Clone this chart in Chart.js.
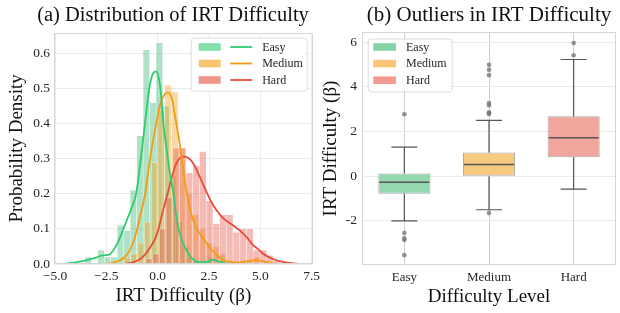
<!DOCTYPE html>
<html>
<head>
<meta charset="utf-8">
<script src="https://cdn.jsdelivr.net/npm/chart.js@4.4.0/dist/chart.umd.min.js"></script>
<style>
  html, body { margin: 0; padding: 0; background: #fff; }
  #wrap { position: relative; width: 620px; height: 313px; overflow: hidden; }
  canvas { position: absolute; top: 0; }
  #distChart { left: 0; }
  #boxChart { left: 310px; }
</style>
</head>
<body>
<div id="wrap">
  <canvas id="distChart" width="346" height="313"></canvas>
  <canvas id="boxChart" width="310" height="313"></canvas>
</div>
<script>
// ---- (a) histogram bins (edges) and densities ----
const easyEdges = [-3.55, -3.23, -2.92, -2.60, -2.29, -1.97, -1.65, -1.34, -1.02, -0.71, -0.39,
  -0.07, 0.24, 0.56, 0.87, 1.19, 1.51, 1.82, 2.14, 2.45, 2.77];
const easyDensity = [0.02, 0, 0.04, 0.02, 0.02, 0.11, 0.095, 0.21, 0.365, 0.61,
  0.46, 0.63, 0.45, 0.25, 0.12, 0.05, 0.02, 0.01, 0, 0.02];

const mediumEdges = [-1.65, -1.32, -0.99, -0.66, -0.32, 0.01, 0.34, 0.67, 1.0, 1.33, 1.67,
  2.0, 2.33, 2.66, 2.99, 3.32, 3.65, 3.99, 4.32, 4.65, 4.98];
const mediumDensity = [0.02, 0.03, 0.06, 0.12, 0.29, 0.44, 0.51, 0.49, 0.33, 0.2,
  0.14, 0.1, 0.06, 0.05, 0.03, 0.01, 0, 0, 0.01, 0.02];

const hardEdges = [-0.58, -0.25, 0.07, 0.40, 0.73, 1.06, 1.38, 1.71, 2.04, 2.36, 2.69,
  3.02, 3.34, 3.67, 4.0, 4.33, 4.65, 4.98, 5.31, 5.63, 5.96];
const hardDensity = [0.015, 0.03, 0.10, 0.19, 0.33, 0.33, 0.26, 0.28, 0.32, 0.18,
  0.115, 0.14, 0.14, 0.09, 0.10, 0.10, 0.04, 0.04, 0.025, 0.01];

// ---- (a) KDE curves ----
const easyKdeX = [-4.6, -4.2, -3.8, -3.4, -3.0, -2.75, -2.55, -2.35, -2.15, -1.95, -1.67, -1.4,
  -1.2, -1.05, -0.82, -0.62, -0.41, -0.25, -0.07, 0.05, 0.15, 0.28, 0.45, 0.62, 0.77, 0.9,
  1.02, 1.2, 1.35, 1.55, 1.8, 2.1, 2.4, 2.7, 3.0, 3.3, 3.6];
const easyKdeY = [0.0, 0.003, 0.007, 0.012, 0.018, 0.024, 0.025, 0.027, 0.04, 0.06, 0.1, 0.14,
  0.17, 0.2, 0.3, 0.4, 0.5, 0.54, 0.549, 0.53, 0.49, 0.4, 0.32, 0.25, 0.2, 0.14,
  0.1, 0.065, 0.045, 0.025, 0.01, 0.005, 0.006, 0.012, 0.007, 0.002, 0.0];

const mediumKdeX = [-2.5, -2.1, -1.7, -1.4, -1.2, -1.0, -0.8, -0.61, -0.37, -0.2, -0.07, 0.1,
  0.3, 0.5, 0.7, 0.85, 1.0, 1.1, 1.34, 1.6, 1.9, 2.2, 2.5, 2.8, 3.1, 3.5, 3.9, 4.3, 4.8,
  5.2, 5.6, 6.0];
const mediumKdeY = [0.0, 0.005, 0.015, 0.035, 0.06, 0.1, 0.15, 0.2, 0.3, 0.36, 0.4, 0.45,
  0.48, 0.489, 0.47, 0.42, 0.37, 0.33, 0.23, 0.15, 0.1, 0.075, 0.05, 0.03, 0.014, 0.006,
  0.004, 0.007, 0.011, 0.007, 0.002, 0.0];

const hardKdeX = [-1.6, -1.2, -0.85, -0.6, -0.37, -0.1, 0.04, 0.25, 0.48, 0.7, 0.9, 1.1, 1.3,
  1.5, 1.75, 2.0, 2.24, 2.5, 2.72, 3.0, 3.3, 3.7, 4.1, 4.4, 4.6, 4.9, 5.17, 5.5, 5.82,
  6.3, 7.0];
const hardKdeY = [0.0, 0.005, 0.014, 0.028, 0.047, 0.075, 0.1, 0.15, 0.2, 0.25, 0.285, 0.303,
  0.306, 0.302, 0.285, 0.255, 0.223, 0.19, 0.166, 0.143, 0.125, 0.109, 0.09, 0.072,
  0.057, 0.042, 0.028, 0.017, 0.01, 0.004, 0.0];

const distXTicks = [-5, -2.5, 0, 2.5, 5, 7.5];
const distYTicks = [0, 0.1, 0.2, 0.3, 0.4, 0.5, 0.6];

// ---- (b) box plot statistics ----
const levels = ["Easy", "Medium", "Hard"];
const boxQ1 = [-0.78, 0.0, 0.85];
const boxMedian = [-0.27, 0.53, 1.72];
const boxQ3 = [0.12, 1.06, 2.68];
const whiskerLow = [-2.0, -1.5, -0.58];
const whiskerHigh = [1.30, 2.50, 5.22];
const easyOutliers = [2.77, -2.54, -2.78, -2.85, -3.53];
const mediumOutliers = [-1.65, 2.78, 2.82, 2.86, 3.17, 3.27, 4.52, 4.76, 4.98];
const hardOutliers = [5.41, 5.96];
const boxYTicks = [-2, 0, 2, 4, 6];

// colours
const lineColors = ["#2ecc71", "#f39c12", "#e74c3c"];
const barColors = ["rgba(80,190,130,0.45)", "rgba(243,156,18,0.38)", "rgba(231,76,60,0.38)"];
const patchColors = ["rgba(46,204,113,0.6)", "rgba(243,156,18,0.6)", "rgba(231,76,60,0.6)"];
const boxColors = ["#93d8b0", "#f7ca82", "#f1a59c"];
const boxPatchColors = ["#84d3a4", "#f9c677", "#f29a90"];

Chart.defaults.font.family = "'Liberation Serif', 'Times New Roman', serif";
Chart.defaults.color = "#262626";

function binCenters(edges) {
  return edges.slice(0, -1).map((e, i) => (e + edges[i + 1]) / 2);
}
function histPoints(edges, dens) {
  const c = binCenters(edges);
  return dens.map((d, i) => ({ x: c[i], y: d }));
}
function curvePoints(xs, ys) {
  return xs.map((x, i) => ({ x: x, y: ys[i] }));
}

// light frame round the plot area
const framePlugin = {
  id: "frame",
  afterDatasetsDraw(chart, args, opts) {
    const a = chart.chartArea;
    const ctx = chart.ctx;
    ctx.save();
    ctx.strokeStyle = opts.color || "#d6d6d6";
    ctx.lineWidth = 1;
    ctx.strokeRect(Math.round(a.left) + 0.5, Math.round(a.top) + 0.5,
      Math.round(a.right - a.left) - 1, Math.round(a.bottom - a.top) - 1);
    ctx.restore();
  }
};

function roundRect(ctx, x, y, w, h, r) {
  ctx.beginPath();
  ctx.moveTo(x + r, y);
  ctx.lineTo(x + w - r, y);
  ctx.quadraticCurveTo(x + w, y, x + w, y + r);
  ctx.lineTo(x + w, y + h - r);
  ctx.quadraticCurveTo(x + w, y + h, x + w - r, y + h);
  ctx.lineTo(x + r, y + h);
  ctx.quadraticCurveTo(x, y + h, x, y + h - r);
  ctx.lineTo(x, y + r);
  ctx.quadraticCurveTo(x, y, x + r, y);
  ctx.closePath();
}

// legend with a patch (and optionally a line) per row
const pairLegendPlugin = {
  id: "pairLegend",
  afterDraw(chart, args, o) {
    const a = chart.chartArea;
    const ctx = chart.ctx;
    const x0 = o.corner === "right" ? a.right - o.inset - o.width : a.left + o.inset;
    const y0 = a.top + o.top;
    ctx.save();
    roundRect(ctx, x0 + 0.5, y0 + 0.5, o.width, o.height, 3);
    ctx.fillStyle = "rgba(255,255,255,0.85)";
    ctx.fill();
    ctx.strokeStyle = "#dcdcdc";
    ctx.lineWidth = 1;
    ctx.stroke();
    ctx.font = "12px 'Liberation Serif', serif";
    ctx.textBaseline = "middle";
    o.labels.forEach((label, i) => {
      const cy = y0 + o.firstRow + i * o.rowGap;
      ctx.fillStyle = o.patches[i];
      ctx.fillRect(x0 + o.patchX, cy - 3.8, o.patchW, 7.6);
      if (o.lines) {
        ctx.strokeStyle = o.lines[i];
        ctx.lineWidth = 1.8;
        ctx.beginPath();
        ctx.moveTo(x0 + o.lineX, cy);
        ctx.lineTo(x0 + o.lineX + o.patchW, cy);
        ctx.stroke();
      }
      ctx.fillStyle = "#262626";
      ctx.fillText(label, x0 + o.textX, cy + 0.5);
    });
    ctx.restore();
  }
};

// whiskers, caps and medians from the box statistics
const whiskerPlugin = {
  id: "whiskers",
  afterDatasetsDraw(chart) {
    const xs = chart.scales.x;
    const ys = chart.scales.y;
    const boxes = chart.getDatasetMeta(1).data;
    const ctx = chart.ctx;
    ctx.save();
    ctx.strokeStyle = "#555";
    levels.forEach((lvl, i) => {
      const cx = xs.getPixelForValue(i);
      const w = boxes[i].width;
      const cap = w * 0.5;
      ctx.lineWidth = 1.2;
      ctx.beginPath();
      ctx.moveTo(cx, ys.getPixelForValue(whiskerLow[i]));
      ctx.lineTo(cx, ys.getPixelForValue(boxQ1[i]));
      ctx.moveTo(cx, ys.getPixelForValue(boxQ3[i]));
      ctx.lineTo(cx, ys.getPixelForValue(whiskerHigh[i]));
      ctx.moveTo(cx - cap / 2, ys.getPixelForValue(whiskerLow[i]));
      ctx.lineTo(cx + cap / 2, ys.getPixelForValue(whiskerLow[i]));
      ctx.moveTo(cx - cap / 2, ys.getPixelForValue(whiskerHigh[i]));
      ctx.lineTo(cx + cap / 2, ys.getPixelForValue(whiskerHigh[i]));
      ctx.stroke();
      ctx.lineWidth = 1.5;
      ctx.beginPath();
      ctx.moveTo(cx - w / 2 + 1, ys.getPixelForValue(boxMedian[i]));
      ctx.lineTo(cx + w / 2 - 1, ys.getPixelForValue(boxMedian[i]));
      ctx.stroke();
    });
    ctx.restore();
  }
};

const xMin = -5.05, xMax = 7.55;
function setDistXTicks(s) {
  s.ticks = distXTicks.map(v => ({ value: v }));
}
// one hidden x axis per histogram so every group keeps its own bin width
function hiddenX() {
  return { type: "linear", display: false, min: xMin, max: xMax, offset: false,
    afterBuildTicks: setDistXTicks };
}
const tickFont = { size: 13.5 };
const axisTitleFont = { size: 19 };

function fmtDist(v) {
  const s = Math.abs(v).toFixed(1);
  return v < 0 ? "\u2212" + s : s;
}

function histDataset(label, edges, dens, color, axisId, order) {
  return {
    label: label, data: histPoints(edges, dens), backgroundColor: color,
    borderColor: "rgba(255,255,255,0.6)", borderWidth: 0.5, xAxisID: axisId,
    grouped: false, categoryPercentage: 1, barPercentage: 1, order: order
  };
}
function kdeDataset(label, xs, ys, color) {
  return {
    type: "line", label: label, data: curvePoints(xs, ys), borderColor: color,
    borderWidth: 1.8, pointRadius: 0, cubicInterpolationMode: "monotone", xAxisID: "x", order: 0
  };
}

// ---------------- (a) distribution ----------------
new Chart(document.getElementById("distChart"), {
  type: "bar",
  data: {
    datasets: [
      kdeDataset("Easy", easyKdeX, easyKdeY, lineColors[0]),
      kdeDataset("Medium", mediumKdeX, mediumKdeY, lineColors[1]),
      kdeDataset("Hard", hardKdeX, hardKdeY, lineColors[2]),
      histDataset("Easy", easyEdges, easyDensity, barColors[0], "xEasy", 3),
      histDataset("Medium", mediumEdges, mediumDensity, barColors[1], "xMedium", 2),
      histDataset("Hard", hardEdges, hardDensity, barColors[2], "xHard", 1)
    ]
  },
  options: {
    responsive: false,
    animation: false,
    layout: { padding: 0 },
    plugins: {
      legend: { display: false },
      tooltip: { enabled: false },
      title: {
        display: true,
        text: "(a) Distribution of IRT Difficulty",
        color: "#111",
        font: { size: 20.5, weight: "normal" },
        padding: { top: 3.3, bottom: 4.8 }
      },
      frame: { color: "#d6d6d6" },
      pairLegend: {
        corner: "right", inset: 6, top: 5, width: 116, height: 53,
        firstRow: 9.3, rowGap: 16.5, patchX: 8, patchW: 22, lineX: 39.5, textX: 71.5,
        labels: levels, patches: patchColors, lines: lineColors
      }
    },
    scales: {
      x: {
        type: "linear", min: xMin, max: xMax, offset: false,
        afterBuildTicks: setDistXTicks,
        afterFit: s => { s.height = 49; },
        grid: { color: "#ebebeb", drawTicks: false, offset: false },
        border: { display: false },
        ticks: { font: tickFont, padding: 4, maxRotation: 0, callback: v => fmtDist(v) },
        title: { display: true, text: "IRT Difficulty (\u03b2)", color: "#111", font: axisTitleFont,
          padding: { top: 0, bottom: 5.4 } }
      },
      xEasy: hiddenX(),
      xMedium: hiddenX(),
      xHard: hiddenX(),
      y: {
        min: 0, max: 0.659,
        afterBuildTicks: s => { s.ticks = distYTicks.map(v => ({ value: v })); },
        afterFit: s => { s.width = 54; },
        grid: { color: "#ebebeb", drawTicks: false },
        border: { display: false },
        ticks: { font: tickFont, padding: 4, callback: v => v.toFixed(1) },
        title: { display: true, text: "Probability Density", color: "#111", font: axisTitleFont,
          padding: { top: 6, bottom: 0 } }
      },
      // empty right margin strip, so the title centres over the whole panel
      yPad: {
        type: "linear", position: "right", display: true,
        afterFit: s => { s.width = 33.3; },
        grid: { display: false, drawTicks: false },
        border: { display: false },
        ticks: { display: false }
      }
    }
  },
  plugins: [framePlugin, pairLegendPlugin]
});

// ---------------- (b) box plot ----------------
const outlierPoints = []
  .concat(easyOutliers.map(v => ({ x: "Easy", y: v })))
  .concat(mediumOutliers.map(v => ({ x: "Medium", y: v })))
  .concat(hardOutliers.map(v => ({ x: "Hard", y: v })));

new Chart(document.getElementById("boxChart"), {
  type: "bar",
  data: {
    labels: levels,
    datasets: [
      { type: "scatter", label: "Outliers", data: outlierPoints, pointRadius: 2.3,
        pointBackgroundColor: "rgba(120,120,120,0.8)", pointBorderWidth: 0, order: 0 },
      { label: "Box", data: levels.map((l, i) => [boxQ1[i], boxQ3[i]]), backgroundColor: boxColors,
        borderColor: "rgba(140,140,140,0.75)", borderWidth: 1, borderSkipped: false,
        barPercentage: 0.615, categoryPercentage: 1, order: 1 }
    ]
  },
  options: {
    responsive: false,
    animation: false,
    layout: { padding: { left: 0, right: 1, top: 0, bottom: 0 } },
    plugins: {
      legend: { display: false },
      tooltip: { enabled: false },
      title: {
        display: true,
        fullSize: false,
        text: "(b) Outliers in IRT Difficulty",
        color: "#111",
        font: { size: 21, weight: "normal" },
        padding: { top: 3, bottom: 3.8 }
      },
      frame: { color: "#d6d6d6" },
      pairLegend: {
        corner: "left", inset: 5.7, top: 6.5, width: 84, height: 53,
        firstRow: 8.5, rowGap: 16.6, patchX: 5.6, patchW: 22.7, textX: 38.3,
        labels: levels, patches: boxPatchColors
      }
    },
    scales: {
      x: {
        type: "category", offset: true,
        afterFit: s => { s.height = 48; },
        grid: { color: "#cfcfcf", drawTicks: false, offset: false },
        border: { display: false },
        ticks: { font: { size: 13 }, padding: 5 },
        title: { display: true, text: "Difficulty Level", color: "#111", font: axisTitleFont,
          padding: { top: 0, bottom: 5 } }
      },
      y: {
        min: -3.97, max: 6.45,
        afterBuildTicks: s => { s.ticks = boxYTicks.map(v => ({ value: v })); },
        afterFit: s => { s.width = 52; },
        grid: { color: "#ebebeb", drawTicks: false },
        border: { display: false },
        ticks: { font: tickFont, padding: 5, callback: v => String(v) },
        title: { display: true, text: "IRT Difficulty (\u03b2)", color: "#111", font: axisTitleFont,
          padding: { top: 9.6, bottom: 0 } }
      }
    }
  },
  plugins: [framePlugin, whiskerPlugin, pairLegendPlugin]
});
</script>
</body>
</html>
